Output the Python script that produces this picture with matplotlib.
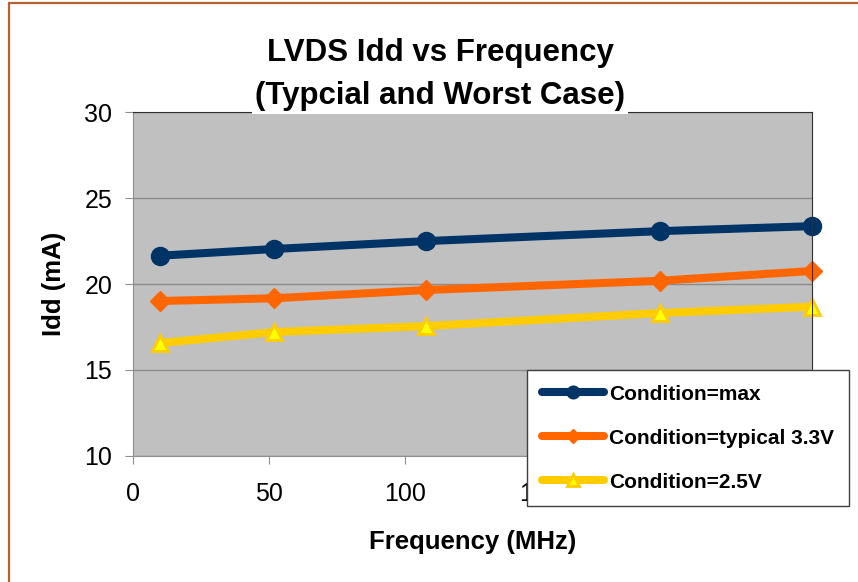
import matplotlib.pyplot as plt
from matplotlib.patches import Rectangle

plt.rcParams['font.family'] = ['Liberation Sans', 'DejaVu Sans']

freq = [10, 52, 108, 194, 250]
idd_max = [21.65, 22.04, 22.50, 23.08, 23.37]
idd_typ = [19.01, 19.17, 19.65, 20.19, 20.76]
idd_25v = [16.56, 17.20, 17.55, 18.31, 18.68]
labels = ['Condition=max', 'Condition=typical 3.3V', 'Condition=2.5V']
xticks = [0, 50, 100, 150, 200, 250]
xtick_labels = ['0', '50', '100', '150', '', '']  # 200/250 sit under the legend

fig = plt.figure(figsize=(8.58, 5.82), dpi=100)
ax = fig.add_axes([0.155, 0.217, 0.7915, 0.590])

# outer chart border
fig.patches.append(Rectangle((9 / 858, -0.05), 1.2, 1 - 2.5 / 582 + 0.05,
                             transform=fig.transFigure, fill=False,
                             edgecolor='#B8612F', linewidth=1.6))

ax.set_facecolor('#C0C0C0')
ax.plot(freq, idd_max, color='#003366', lw=5.8, marker='o', ms=13,
        label=labels[0], solid_capstyle='round', clip_on=False)
ax.plot(freq, idd_typ, color='#FF6600', lw=5.8, marker='D', ms=10.5,
        label=labels[1], solid_capstyle='round', clip_on=False)
ax.plot(freq, idd_25v, color='#FFCC00', lw=5.8, marker='^', ms=12,
        markerfacecolor='#FFFF00', markeredgecolor='#FFCC00', mew=2,
        label=labels[2], solid_capstyle='round', clip_on=False)

ax.set_xlim(0, 250)
ax.set_ylim(10, 30)
ax.set_xticks(xticks)
ax.set_xticklabels(xtick_labels)
ax.set_yticks([10, 15, 20, 25, 30])
ax.yaxis.grid(True, color='#8C8C8C', lw=1)
ax.set_axisbelow(True)

for s in ['left', 'bottom']:
    ax.spines[s].set_color('#909090')
for s in ['top', 'right']:
    ax.spines[s].set_color('#303030')
ax.tick_params(axis='both', colors='#909090', labelcolor='black',
               length=6, labelsize=18)
ax.tick_params(axis='y', pad=9)
ax.tick_params(axis='x', pad=13)

ax.set_xlabel('Frequency (MHz)', fontsize=18.5, fontweight='bold', labelpad=17)
ax.set_ylabel('Idd (mA)', fontsize=18.5, fontweight='bold', labelpad=13)

fig.text(0.513, 0.872, 'LVDS Idd vs Frequency\n(Typcial and Worst Case)',
         ha='center', va='center', fontsize=22.5, fontweight='bold',
         linespacing=1.55,
         bbox=dict(facecolor='white', edgecolor='none', pad=2))

leg = ax.legend(loc='upper left', bbox_to_anchor=(527 / 858, 1 - 370 / 582),
                bbox_transform=fig.transFigure, prop={'size': 15, 'weight': 'bold'},
                fancybox=False, framealpha=1, edgecolor='#404040',
                markerscale=0.7, handlelength=3.0, handletextpad=0.25,
                labelspacing=1.2, borderpad=0.7, borderaxespad=0)
leg.get_frame().set_linewidth(1)
leg.set_zorder(5)

fig.savefig('out.png', dpi=100)
